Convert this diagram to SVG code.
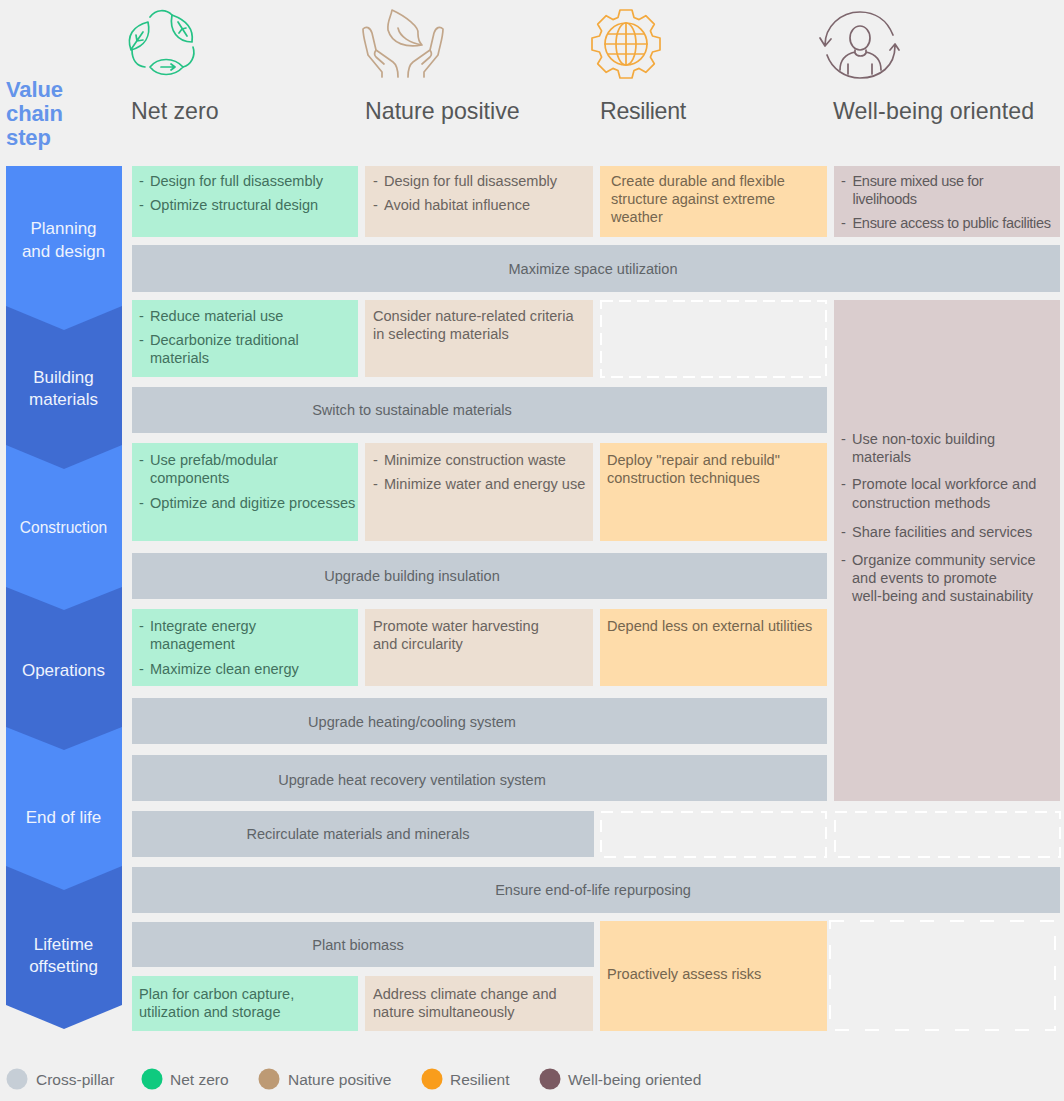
<svg xmlns="http://www.w3.org/2000/svg" width="1064" height="1101" viewBox="0 0 1064 1101">
<style>
text{font-family:"Liberation Sans",Arial,sans-serif;font-size:14.55px;fill:#5f6468}
.h{font-size:23.2px;fill:#555758}
.v{font-size:22px;font-weight:bold;fill:#6494ea;letter-spacing:-.1px}
.s{font-size:17px;fill:#eef3fd;text-anchor:middle}
.c{text-anchor:middle}
.g{fill:#b0f0d5}.n{fill:#ecdfd2}.r{fill:#fedcaa}.w{fill:#dacdce}.x{fill:#c4ccd4}
.d{fill:#f0f0f0;stroke:#fff;stroke-width:2}
.tg{fill:#42705e}.tn{fill:#6a6460}.tr{fill:#75664f}.tw{fill:#5e5a5c}
.tight{letter-spacing:-.33px}
.l{fill:#6a6d70;font-size:15.5px}
.i{fill:none;stroke-width:1.7;stroke-linecap:round;stroke-linejoin:round}
.ig{stroke:#25c285}.in{stroke:#c2a68a}.ir{stroke:#f3a93e}.iw{stroke:#7d666d}
.lt{fill:#4f8bf8}.dk{fill:#3f6cd2}
</style>
<rect width="1064" height="1101" fill="#f0f0f0"/>
<g id="header-value-chain"><text class="v" x="6" y="97">Value</text><text class="v" x="6" y="121">chain</text><text class="v" x="6" y="145">step</text></g>
<g id="pillar-net-zero">
<g class="i ig">
<path d="M131 50C126 36 133 26 148 22C151 36 145 46 131 50ZM132 48L143 32M137 41L136 35M137 41L143 40"/>
<path d="M192 42C178 42 169 31 172 15C186 20 194 29 192 42ZM178 22L187 36M182 29L179 33M182 29L186 28"/>
<path d="M150 67C158 57 174 57 183 67C174 77 158 77 150 67ZM161 67L175 67M171 64L175 67L171 70"/>
<path d="M150 17C156 9 166 9 172 15M132 50C132 60 137 66 145 67M193 47C196 56 191 65 183 67"/>
</g>
<text class="h" x="131" y="119">Net zero</text></g>
<g id="pillar-nature-positive">
<g class="i in">
<path d="M392 10C405 16 420 27 418 34C418 38 420 43 422 45C407 48 392 44 388 30C387 21 391 17 392 10ZM398 28C400 37 410 43 422 45"/>
<path d="M382 77V72L368 55C366 45 363 37 363 29C366 26 370 27 372 33L376 50L393 62C397 65 398 70 398 77M376 50C374 53 374 55 376 57L384 64"/>
<path d="M424 77V72L438 55C440 45 443 37 443 29C440 26 436 27 434 33L430 50L413 62C409 65 408 70 408 77M430 50C432 53 432 55 430 57L422 64"/>
</g>
<text class="h" x="365" y="119">Nature positive</text></g>
<g id="pillar-resilient">
<g class="i ir" transform="translate(626 44)">
<path d="M26.500-8L34-6V6L26.500 8L24.400 13.100L28.300 19.800L19.800 28.300L13.100 24.400L8 26.500L6 34H-6L-8 26.500L-13.100 24.400L-19.800 28.300L-28.300 19.800L-24.400 13.100L-26.500 8L-34 6V-6L-26.500-8L-24.400-13.100L-28.300-19.800L-19.800-28.300L-13.100-24.400L-8-26.500L-6-34H6L8-26.500L13.100-24.400L19.800-28.300L28.300-19.800L24.400-13.100Z"/>
<circle r="21"/><ellipse rx="10" ry="21"/><path d="M0-21V21M-18-10H18M-21 0H21M-18 10H18"/>
</g>
<text class="h" x="600" y="119" style="letter-spacing:-.35px">Resilient</text></g>
<g id="pillar-well-being">
<g class="i iw">
<path d="M893 35C887 20 875 12 860 12C840 12 825 27 825 45M820 38L825 46L831 39"/>
<path d="M827 55C832 69 845 78 860 78C880 78 895 66 895 46M890 50L895 44L899 50"/>
<ellipse cx="860" cy="38" rx="10" ry="12"/>
<path d="M855 50V53C857 57 864 57 866 53V50M855 52C846 54 840 60 840 70M866 52C875 54 881 60 881 70M848 64V74M872 64V74"/>
</g>
<text class="h" x="833" y="119" style="letter-spacing:.1px">Well-being oriented</text></g>
<g id="step-lifetime-offsetting"><polygon class="dk" points="6,860 122,860 122,1005 64,1029 6,1005"/><text class="s" x="63.500" y="950">Lifetime</text><text class="s" x="63.500" y="972">offsetting</text></g>
<g id="step-end-of-life"><polygon class="lt" points="6,720 122,720 122,866 64,890 6,866"/><text class="s" x="63.500" y="823">End of life</text></g>
<g id="step-operations"><polygon class="dk" points="6,580 122,580 122,727 64,750 6,727"/><text class="s" x="63.500" y="676">Operations</text></g>
<g id="step-construction"><polygon class="lt" points="6,440 122,440 122,587 64,610 6,587"/><text class="s" x="63.500" y="533" style="font-size:15.600px">Construction</text></g>
<g id="step-building-materials"><polygon class="dk" points="6,300 122,300 122,445 64,469 6,445"/><text class="s" x="63.500" y="383">Building</text><text class="s" x="63.500" y="405">materials</text></g>
<g id="step-planning"><polygon class="lt" points="6,166 122,166 122,306 64,330 6,306"/><text class="s" x="63.500" y="234">Planning</text><text class="s" x="63.500" y="257">and design</text></g>

<g id="cell-plan-nz"><rect class="g" x="132" y="166" width="226" height="71"/><text class="tg" x="139" y="186">- <tspan x="150">Design for full disassembly</tspan></text><text class="tg" x="139" y="210">- <tspan x="150">Optimize structural design</tspan></text></g>
<g id="cell-plan-np"><rect class="n" x="365" y="166" width="228" height="71"/><text class="tn" x="373" y="186">- <tspan x="384">Design for full disassembly</tspan></text><text class="tn" x="373" y="210">- <tspan x="384">Avoid habitat influence</tspan></text></g>
<g id="cell-plan-r"><rect class="r" x="600" y="166" width="227" height="71"/><text class="tr" x="611" y="186">Create durable and flexible</text><text class="tr" x="611" y="204">structure against extreme</text><text class="tr" x="611" y="222">weather</text></g>
<g id="cell-plan-w"><rect class="w" x="834" y="166" width="226" height="71"/><text class="tw tight" x="841" y="186">- <tspan x="852.500">Ensure mixed use for</tspan></text><text class="tw tight" x="852.500" y="204">livelihoods</text><text class="tw tight" x="841" y="228">- <tspan x="852.500">Ensure access to public facilities</tspan></text></g>
<g id="cell-plan-x"><rect class="x" x="132" y="245" width="928" height="47"/><text class="c" x="593" y="274">Maximize space utilization</text></g>

<g id="cell-mat-nz"><rect class="g" x="132" y="300" width="226" height="77"/><text class="tg" x="139" y="321">- <tspan x="150">Reduce material use</tspan></text><text class="tg" x="139" y="345">- <tspan x="150">Decarbonize traditional</tspan></text><text class="tg" x="150" y="363">materials</text></g>
<g id="cell-mat-np"><rect class="n" x="365" y="300" width="228" height="77"/><text class="tn" x="373" y="321">Consider nature-related criteria</text><text class="tn" x="373" y="339">in selecting materials</text></g>
<g id="cell-mat-empty"><rect class="d" x="601" y="301" width="225" height="76" stroke-dasharray="12 6"/></g>
<g id="cell-mat-x"><rect class="x" x="132" y="387" width="695" height="46"/><text class="c" x="412" y="415">Switch to sustainable materials</text></g>

<g id="cell-con-nz"><rect class="g" x="132" y="443" width="226" height="98"/><text class="tg" x="139" y="465">- <tspan x="150">Use prefab/modular</tspan></text><text class="tg" x="150" y="483">components</text><text class="tg" x="139" y="508">- <tspan x="150">Optimize and digitize processes</tspan></text></g>
<g id="cell-con-np"><rect class="n" x="365" y="443" width="228" height="98"/><text class="tn" x="373" y="465">- <tspan x="384">Minimize construction waste</tspan></text><text class="tn" x="373" y="489">- <tspan x="384">Minimize water and energy use</tspan></text></g>
<g id="cell-con-r"><rect class="r" x="600" y="443" width="227" height="98"/><text class="tr" x="607" y="465">Deploy "repair and rebuild"</text><text class="tr" x="607" y="483">construction techniques</text></g>
<g id="cell-con-x"><rect class="x" x="132" y="553" width="695" height="46"/><text class="c" x="412" y="581">Upgrade building insulation</text></g>

<g id="cell-op-nz"><rect class="g" x="132" y="609" width="226" height="77"/><text class="tg" x="139" y="631">- <tspan x="150">Integrate energy</tspan></text><text class="tg" x="150" y="649">management</text><text class="tg" x="139" y="674">- <tspan x="150">Maximize clean energy</tspan></text></g>
<g id="cell-op-np"><rect class="n" x="365" y="609" width="228" height="77"/><text class="tn" x="373" y="631">Promote water harvesting</text><text class="tn" x="373" y="649">and circularity</text></g>
<g id="cell-op-r"><rect class="r" x="600" y="609" width="227" height="77"/><text class="tr" x="607" y="631">Depend less on external utilities</text></g>
<g id="cell-op-x1"><rect class="x" x="132" y="698" width="695" height="46"/><text class="c" x="412" y="727">Upgrade heating/cooling system</text></g>
<g id="cell-op-x2"><rect class="x" x="132" y="755" width="695" height="46"/><text class="c" x="412" y="785">Upgrade heat recovery ventilation system</text></g>

<g id="cell-well-being-wide"><rect class="w" x="834" y="300" width="226" height="501"/>
<text class="tw" x="841" y="444">- <tspan x="852">Use non-toxic building</tspan></text><text class="tw" x="852" y="462">materials</text>
<text class="tw" x="841" y="489">- <tspan x="852">Promote local workforce and</tspan></text><text class="tw" x="852" y="508">construction methods</text>
<text class="tw" x="841" y="537">- <tspan x="852">Share facilities and services</tspan></text>
<text class="tw" x="841" y="565">- <tspan x="852">Organize community service</tspan></text><text class="tw" x="852" y="583">and events to promote</text><text class="tw" x="852" y="601">well-being and sustainability</text></g>

<g id="cell-eol-x"><rect class="x" x="132" y="811" width="462" height="46"/><text class="c" x="358" y="839">Recirculate materials and minerals</text></g>
<g id="cell-eol-empty-r"><rect class="d" x="601" y="812" width="225" height="45" stroke-dasharray="12 8"/></g>
<g id="cell-eol-empty-w"><rect class="d" x="835" y="812" width="225" height="45" stroke-dasharray="12 8"/></g>
<g id="cell-eol-x2"><rect class="x" x="132" y="867" width="928" height="46"/><text class="c" x="593" y="895">Ensure end-of-life repurposing</text></g>

<g id="cell-off-x"><rect class="x" x="132" y="922" width="462" height="45"/><text class="c" x="358" y="950">Plant biomass</text></g>
<g id="cell-off-nz"><rect class="g" x="132" y="976" width="226" height="55"/><text class="tg" x="139" y="999">Plan for carbon capture,</text><text class="tg" x="139" y="1017">utilization and storage</text></g>
<g id="cell-off-np"><rect class="n" x="365" y="976" width="228" height="55"/><text class="tn" x="373" y="999">Address climate change and</text><text class="tn" x="373" y="1017">nature simultaneously</text></g>
<g id="cell-off-r"><rect class="r" x="600" y="921" width="227" height="110"/><text class="tr" x="607" y="979">Proactively assess risks</text></g>
<g id="cell-off-empty"><rect class="d" x="830" y="921" width="225" height="109" stroke-dasharray="14 16"/></g>

<g id="legend">
<circle cx="17" cy="1079" r="10.500" fill="#c6ced6"/><text class="l" x="36" y="1085">Cross-pillar</text>
<circle cx="152" cy="1079" r="10.500" fill="#0fca7f"/><text class="l" x="170" y="1085">Net zero</text>
<circle cx="269" cy="1079" r="10.500" fill="#bd9a74"/><text class="l" x="288" y="1085">Nature positive</text>
<circle cx="432" cy="1079" r="10.500" fill="#f99d1c"/><text class="l" x="450" y="1085">Resilient</text>
<circle cx="550" cy="1079" r="10.500" fill="#7b5a62"/><text class="l" x="568" y="1085">Well-being oriented</text>
</g>
</svg>
